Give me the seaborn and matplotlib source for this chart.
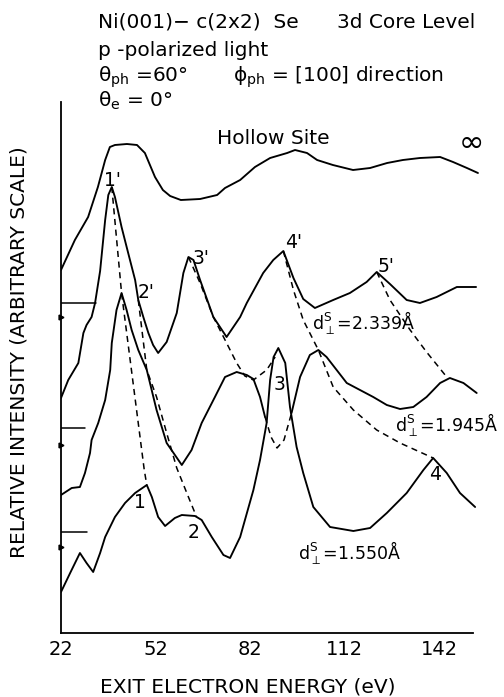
import numpy as np
import pandas as pd
import matplotlib
matplotlib.use('Agg')
import matplotlib.pyplot as plt
import seaborn as sns

# exit electron energy (eV) and relative intensity (arbitrary units)
hollow_E = [22.0, 26.4, 30.6, 33.7, 36.0, 37.5, 39.1, 42.9, 46.1, 48.6, 51.8, 54.3, 56.6, 60.0,
            66.1, 71.5, 74.0, 78.8, 83.5, 88.3, 93.7, 96.2, 100.0, 103.2, 108.2, 114.6, 120.0,
            125.4, 130.4, 135.8, 142.2, 146.3, 150.7, 154.2]
hollow_I = [363, 393, 416, 446, 473, 486, 488, 489, 488, 480, 456, 443, 437, 433,
            434, 438, 445, 453, 466, 475, 480, 483, 480, 473, 468, 463, 465,
            470, 473, 475, 476, 471, 465, 460]

d2339_E = [22.0, 24.3, 27.5, 29.1, 30.1, 31.7, 32.8, 34.4, 36.0, 37.0, 38.1, 39.1, 41.2, 43.3,
           45.5, 46.5, 48.1, 49.7, 51.2, 52.8, 55.5, 58.7, 60.8, 62.4, 64.0, 66.1, 70.3, 74.5,
           78.8, 80.9, 86.1, 89.3, 92.5, 95.7, 98.8, 102.5, 108.3, 113.6, 118.9, 122.1, 126.3,
           131.6, 135.8, 141.1, 147.5, 153.6]
d2339_I = [235, 253, 270, 300, 308, 316, 330, 362, 413, 438, 446, 436, 406, 380,
           353, 333, 316, 300, 288, 280, 291, 320, 360, 376, 373, 353, 316, 296,
           316, 330, 360, 373, 382, 355, 334, 325, 333, 340, 351, 361, 349,
           333, 330, 336, 346, 346]

d1945_E = [22.0, 25.4, 28.0, 29.6, 31.2, 31.7, 33.8, 36.0, 37.6, 38.1, 39.6, 41.2, 42.8, 44.4,
           46.5, 49.2, 52.3, 55.5, 60.3, 63.4, 66.6, 70.8, 74.0, 77.7, 80.9, 83.0, 85.1, 86.7,
           88.6, 90.5, 92.7, 95.1, 97.8, 100.9, 103.6, 106.2, 109.4, 112.6, 116.8, 121.0, 125.3,
           129.5, 133.7, 137.9, 142.2, 145.3, 149.6, 153.8]
d1945_I = [138, 145, 146, 160, 180, 193, 210, 233, 263, 290, 323, 340, 323, 303,
           283, 263, 223, 190, 168, 183, 210, 236, 256, 261, 258, 254, 236, 216,
           196, 185, 193, 220, 256, 278, 283, 276, 263, 250, 243, 236, 228,
           224, 226, 236, 250, 255, 250, 240]

d1550_E = [22.0, 24.9, 28.0, 30.1, 32.2, 34.4, 36.0, 39.1, 42.3, 45.5, 49.2, 50.8, 52.8, 55.0,
           58.1, 60.3, 64.5, 66.6, 69.8, 73.5, 75.6, 78.8, 83.0, 85.1, 87.2, 88.3, 89.4, 90.9,
           93.1, 94.6, 96.7, 98.8, 102.0, 107.3, 114.7, 120.0, 125.3, 131.6, 136.9, 140.0,
           144.3, 148.5, 153.3]
d1550_I = [41, 60, 80, 70, 61, 80, 96, 116, 130, 140, 148, 136, 116, 107,
           115, 118, 117, 113, 96, 78, 75, 96, 143, 173, 210, 253, 276, 285,
           270, 226, 186, 160, 126, 106, 102, 105, 120, 140, 163, 175,
           160, 140, 126]

# dashed guide lines joining corresponding peaks
guide1_E = [38.1, 41.2, 48.4, 49.2]
guide1_I = [446, 340, 163, 148]
guide2_E = [46.5, 49.2, 52.3, 55.5, 58.7, 62.4, 65.0]
guide2_I = [333, 263, 236, 200, 165, 136, 116]
guide3_E = [62.4, 66.1, 70.3, 74.5, 77.7, 80.3, 83.0, 87.2, 89.9]
guide3_I = [376, 350, 316, 290, 270, 257, 253, 263, 276]
guide4_E = [92.5, 95.7, 98.8, 103.6, 108.3, 114.7, 122.1, 129.5, 135.8, 140.0]
guide4_I = [382, 343, 313, 283, 246, 223, 203, 190, 181, 175]
guide5_E = [122.1, 126.3, 132.7, 137.9, 144.3]
guide5_I = [361, 333, 303, 281, 256]

baseline_I = [330, 205, 101]
baseline_end = [33.1, 29.6, 30.2]
marker_I = [316, 188, 86]

tick_major = list(range(22, 153, 10))
tick_minor = list(range(27, 153, 10))
tick_labels = [22, 52, 82, 112, 142]

sns.set_style('white')
plt.rcParams['font.family'] = ['DejaVu Sans']
plt.rcParams['text.color'] = 'black'
plt.rcParams['axes.labelcolor'] = 'black'

W, H = 504, 697
fig = plt.figure(figsize=(W / 100, H / 100), dpi=100)
ax = fig.add_axes([61 / W, 64 / H, 419 / W, 531 / H])

lw = 1.35
dash = (0, (4, 3))
for E, I in [(hollow_E, hollow_I), (d2339_E, d2339_I), (d1550_E, d1550_I)]:
    df = pd.DataFrame({'E': E, 'I': I})
    sns.lineplot(data=df, x='E', y='I', color='black', lw=lw, sort=False, ax=ax)

# the 1.945 curve: its dip under peak 3 is drawn dashed
c = pd.DataFrame({'E': d1945_E, 'I': d1945_I})
sns.lineplot(data=c[c.E <= 86.7], x='E', y='I', color='black', lw=lw, sort=False, ax=ax)
sns.lineplot(data=c[c.E >= 95.1], x='E', y='I', color='black', lw=lw, sort=False, ax=ax)
sns.lineplot(data=c[(c.E >= 86.7) & (c.E <= 95.1)], x='E', y='I', color='black', lw=1.1,
             sort=False, ax=ax, linestyle=dash)

for E, I in [(guide1_E, guide1_I), (guide2_E, guide2_I), (guide3_E, guide3_I),
             (guide4_E, guide4_I), (guide5_E, guide5_I)]:
    sns.lineplot(x=E, y=I, color='black', lw=1.1, sort=False, ax=ax, linestyle=dash)

for y0, x1 in zip(baseline_I, baseline_end):
    ax.plot([22, x1], [y0, y0], color='black', lw=1.1)
ax.plot([22] * len(marker_I), marker_I, ls='none', marker='>', ms=3.5, color='black', clip_on=False)

ax.set_xlim(22, 22 + 419 / 3.154)
ax.set_ylim(0, 531)
sns.despine(ax=ax, top=True, right=True)
ax.spines['bottom'].set_bounds(22, 152.5)
for s in ['left', 'bottom']:
    ax.spines[s].set_linewidth(1.3)
    ax.spines[s].set_color('black')

ax.set_yticks([])
ax.set_xticks(tick_major)
ax.set_xticks(tick_minor, minor=True)
ax.set_xticklabels([str(t) if t in tick_labels else '' for t in tick_major])
ax.tick_params(axis='x', which='major', direction='in', length=5.8, width=1.1, pad=5,
               labelsize=14, colors='black')
ax.tick_params(axis='x', which='minor', direction='in', length=3.5, width=1.1)

ax.set_xlabel('EXIT ELECTRON ENERGY (eV)', fontsize=14.5, va='center')
ax.xaxis.set_label_coords(0.445, -0.1017)
ax.set_ylabel('RELATIVE INTENSITY (ARBITRARY SCALE)', fontsize=14.5, va='center')
ax.yaxis.set_label_coords(-0.1002, 0.529)

ax.text(71.5, 495, 'Hollow Site', fontsize=14.5, va='center', ha='left')
ax.text(151.7, 491, r'$\infty$', fontsize=22, va='center', ha='center', fontweight='bold')
for lab, x, y in [("1'", 38.2, 453), ("2'", 49.0, 341), ("3'", 66.4, 375), ("4'", 95.6, 390),
                  ("5'", 125.0, 367), ('3', 91.4, 249), ('4', 140.6, 158), ('1', 47.0, 130),
                  ('2', 63.9, 101)]:
    ax.text(x, y, lab, fontsize=13.5, ha='center', va='center')
for val, x, y in [('2.339', 101.6, 311), ('1.945', 127.9, 208), ('1.550', 97.1, 81)]:
    ax.text(x, y, r'$\mathregular{d_{\perp}^{S}}$=' + val + 'Å', fontsize=12.5, ha='left',
            va='center', clip_on=False)

# header lines
def ftext(x, y, s, **kw):
    fig.text(x / W, 1 - y / H, s, fontsize=14.5, va='center', ha='left', **kw)

ftext(98, 22, 'Ni(001)− c(2x2)  Se')
ftext(337, 22, '3d Core Level')
ftext(98, 50, 'p -polarized light')
ftext(98, 77, r'$\mathregular{\theta_{ph}}$ =60°')
ftext(233, 77, r'$\mathregular{\phi_{ph}}$ = [100] direction')
ftext(98, 101, r'$\mathregular{\theta_{e}}$ = 0°')

fig.savefig('out.png', dpi=100)
